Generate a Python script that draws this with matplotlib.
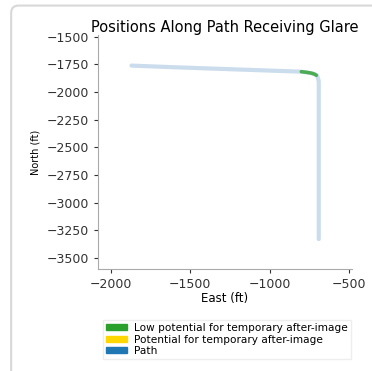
import matplotlib
matplotlib.use("Agg")
import matplotlib.pyplot as plt
from matplotlib.patches import Patch, FancyBboxPatch

# path along the road (east, north in ft)
path_east = [-1870, -1600, -1300, -1000, -800, -730, -700, -690, -690, -690, -690, -690]
path_north = [-1760, -1775, -1790, -1805, -1815, -1830, -1850, -1900, -2300, -2800, -3100, -3330]

# glare segment (low potential)
glare_east = [-800, -770, -740, -715, -705]
glare_north = [-1815, -1820, -1827, -1838, -1848]

legend_labels = ["Low potential for temporary after-image",
                 "Potential for temporary after-image",
                 "Path"]
legend_colors = ["tab:green", "gold", "tab:blue"]

fig = plt.figure(figsize=(3.72, 3.71), dpi=100)

# card frame
card = FancyBboxPatch((0.03, -0.04), 1.05, 1.025, boxstyle="round,pad=0,rounding_size=0.02",
                      transform=fig.transFigure, facecolor="white", edgecolor="#d8d8d8",
                      linewidth=1.5, zorder=-10)
fig.patches.append(card)

ax = fig.add_axes([0.263, 0.275, 0.683, 0.631])
ax.plot(path_east, path_north, color="#6a9ccc", alpha=0.35, linewidth=3, solid_capstyle="round")
ax.plot(glare_east, glare_north, color="tab:green", alpha=0.8, linewidth=2.5, solid_capstyle="round")

ax.set_xlim(-2082, -481)
ax.set_ylim(-3600, -1482)
ax.set_xticks([-2000, -1500, -1000, -500])
ax.set_yticks([-1500, -1750, -2000, -2250, -2500, -2750, -3000, -3250, -3500])
ax.tick_params(labelsize=9, colors="#333333", length=3)
for s in ["top", "right"]:
    ax.spines[s].set_visible(False)
for s in ["left", "bottom"]:
    ax.spines[s].set_color("#aaaaaa")

ax.set_title("Positions Along Path Receiving Glare", fontsize=10.5, pad=2)
ax.set_xlabel("East (ft)", fontsize=8.5, labelpad=1)
ax.set_ylabel("North (ft)", fontsize=7)

handles = [Patch(color=c, label=l) for c, l in zip(legend_colors, legend_labels)]
ax.legend(handles=handles, loc="upper left", bbox_to_anchor=(0.0, -0.195), fontsize=7.6,
          frameon=True, framealpha=1, edgecolor="#eeeeee", fancybox=False,
          handlelength=2.0, handleheight=0.5, handletextpad=0.6,
          borderpad=0.3, labelspacing=0.15)

fig.savefig("out.png", dpi=100)
